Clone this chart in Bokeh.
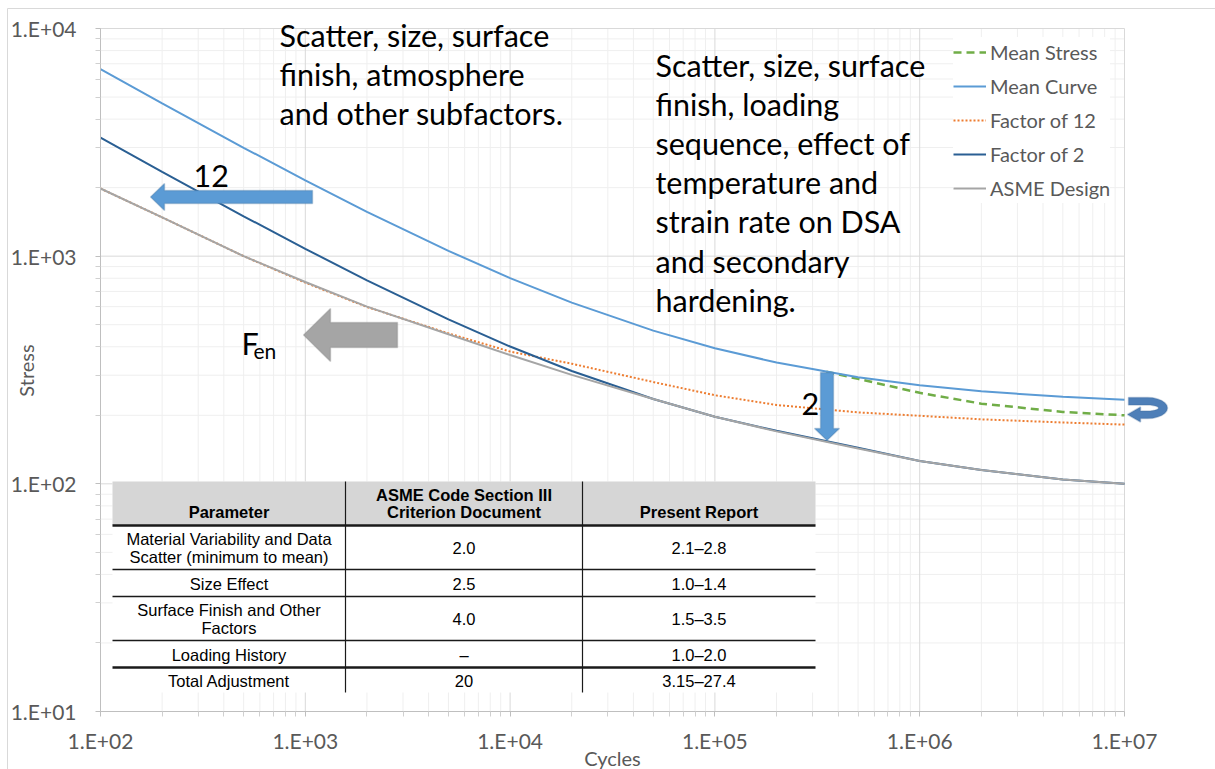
import math

from bokeh.embed import file_html
from bokeh.models import (BoxAnnotation, CustomJSTickFormatter, FixedTicker, Label,
                          Legend, LegendItem, PolyAnnotation, Range1d)
from bokeh.plotting import figure
from bokeh.resources import INLINE

# ---------------------------------------------------------------- data
CYCLES = [1e2, 2e2, 5e2, 1e3, 2e3, 5e3, 1e4, 2e4, 5e4, 1e5, 2e5, 5e5, 1e6, 2e6, 5e6, 1e7]
MEAN_CURVE = [6635, 4691, 2993, 2153, 1566, 1055, 801, 625, 471, 394, 341, 294, 271, 255, 241, 234]
FACTOR_12 = [1982, 1480, 1000, 765, 598, 458, 381, 337, 280, 245, 222, 206, 199, 192, 186, 182]
FACTOR_2 = [3318, 2346, 1497, 1077, 783, 528, 401, 313, 236, 197, 171, 144, 126, 115, 104.5, 100]
ASME_DESIGN = [1982, 1480, 1000, 770, 600, 454, 368, 301, 236, 197, 170, 143, 126, 115, 104.5, 100]

MEAN_STRESS_CYCLES = [3.5e5, 5e5, 1e6, 2e6, 5e6, 1e7]
MEAN_STRESS = [311, 289, 251, 225, 207, 200]

SERIES_NAMES = ["Mean Stress", "Mean Curve", "Factor of 12", "Factor of 2", "ASME Design"]

X_DECADES = [2, 3, 4, 5, 6, 7]      # 1.E+02 ... 1.E+07 cycles
Y_DECADES = [1, 2, 3, 4]            # 1.E+01 ... 1.E+04 stress

TABLE_HEADER = [["Parameter"], ["ASME Code Section III", "Criterion Document"], ["Present Report"]]
TABLE_PARAMETERS = [["Material Variability and Data", "Scatter (minimum to mean)"],
                    ["Size Effect"],
                    ["Surface Finish and Other", "Factors"],
                    ["Loading History"],
                    ["Total Adjustment"]]
TABLE_ASME = ["2.0", "2.5", "4.0", "\u2013", "20"]
TABLE_PRESENT = ["2.1\u20132.8", "1.0\u20131.4", "1.5\u20133.5", "1.0\u20132.0", "3.15\u201327.4"]

NOTE_LEFT = ["Scatter, size, surface", "finish, atmosphere", "and other subfactors."]
NOTE_RIGHT = ["Scatter, size, surface", "finish, loading", "sequence, effect of",
              "temperature and", "strain rate on DSA", "and secondary", "hardening."]

# ---------------------------------------------------------------- layout
W, H = 1215, 769
PLOT_L, PLOT_R, PLOT_T, PLOT_B = 100, 1124, 28, 711     # the 1e2..1e7 x 1e1..1e4 box
X_LO, X_HI = 10.0 ** X_DECADES[0], 10.0 ** X_DECADES[-1]
Y_LO, Y_HI = 10.0 ** Y_DECADES[0], 10.0 ** Y_DECADES[-1]

# the frame covers the whole page so that call-outs placed around the plot
# box are not clipped; the ranges are stretched to keep the log scales and the
# axes are pinned to the edges of the plot box
px_per_x_decade = (PLOT_R - PLOT_L) / (X_DECADES[-1] - X_DECADES[0])
px_per_y_decade = (PLOT_B - PLOT_T) / (Y_DECADES[-1] - Y_DECADES[0])
x_start = 10.0 ** (X_DECADES[0] - PLOT_L / px_per_x_decade)
x_end = 10.0 ** (X_DECADES[-1] + (W - PLOT_R) / px_per_x_decade)
y_start = 10.0 ** (Y_DECADES[0] - (H - PLOT_B) / px_per_y_decade)
y_end = 10.0 ** (Y_DECADES[-1] + PLOT_T / px_per_y_decade)


def sx(cx):
    """page x (px from left) -> frame screen units"""
    return cx


def sy(cy):
    """page y (px from top) -> frame screen units (y up)"""
    return H - cy


FONT = "Lato"
AXIS_GREY = "#595959"

p = figure(width=W, height=H, x_axis_type="log", y_axis_type="log",
           x_range=Range1d(x_start, x_end), y_range=Range1d(y_start, y_end),
           output_backend="svg", toolbar_location=None,
           min_border=0, min_border_left=0, min_border_right=0,
           min_border_top=0, min_border_bottom=0,
           background_fill_color="white", border_fill_color="white")
p.outline_line_color = None
p.grid.visible = False

fmt = CustomJSTickFormatter(code="""
const e = Math.round(Math.log10(tick));
return "1.E" + (e < 0 ? "-" : "+") + String(Math.abs(e)).padStart(2, "0");
""")

x_major = [10.0 ** e for e in X_DECADES]
y_major = [10.0 ** e for e in Y_DECADES]
x_minor = [m * 10.0 ** e for e in X_DECADES[:-1] for m in range(2, 10)]
y_minor = [m * 10.0 ** e for e in Y_DECADES[:-1] for m in range(2, 10)]
p.xaxis.ticker = FixedTicker(ticks=x_major, minor_ticks=x_minor)
p.yaxis.ticker = FixedTicker(ticks=y_major, minor_ticks=y_minor)
p.xaxis.bounds = (X_LO, X_HI)
p.yaxis.bounds = (Y_LO, Y_HI)
p.xaxis.fixed_location = Y_LO
p.yaxis.fixed_location = X_LO

for ax in (p.xaxis[0], p.yaxis[0]):
    ax.formatter = fmt
    ax.major_label_text_font = FONT
    ax.major_label_text_font_size = "21px"
    ax.major_label_text_color = AXIS_GREY
    ax.axis_line_color = "#bfbfbf"
    ax.major_tick_line_color = "#bfbfbf"
    ax.minor_tick_line_color = "#d0d0d0"
    ax.major_tick_out = 5
    ax.minor_tick_out = 5
    ax.major_tick_in = 0
    ax.minor_tick_in = 0
p.yaxis.major_label_standoff = 19
p.xaxis.major_label_standoff = 11

# ---------------------------------------------------------------- grid
MINOR_GRID, MAJOR_GRID = "#efefef", "#d9d9d9"
p.segment(x0=x_minor, y0=Y_LO, x1=x_minor, y1=Y_HI, line_color=MINOR_GRID, line_width=1)
p.segment(x0=X_LO, y0=y_minor, x1=X_HI, y1=y_minor, line_color=MINOR_GRID, line_width=1)
p.segment(x0=x_major, y0=Y_LO, x1=x_major, y1=Y_HI, line_color=MAJOR_GRID, line_width=1)
p.segment(x0=X_LO, y0=y_major, x1=X_HI, y1=y_major, line_color=MAJOR_GRID, line_width=1)

# ---------------------------------------------------------------- curves
r_ms = p.line(MEAN_STRESS_CYCLES, MEAN_STRESS, line_color="#70ad47", line_width=2.5,
              line_dash="8 5")
r_mean = p.line(CYCLES, MEAN_CURVE, line_color="#5b9bd5", line_width=2)
r_f12 = p.line(CYCLES, FACTOR_12, line_color="#ed7d31", line_width=2, line_dash="2 2")
r_f2 = p.line(CYCLES, FACTOR_2, line_color="#2a5f93", line_width=2)
r_asme = p.line(CYCLES, ASME_DESIGN, line_color="#a5a5a5", line_width=2)

legend = Legend(items=[LegendItem(label=n, renderers=[r])
                       for n, r in zip(SERIES_NAMES, [r_ms, r_mean, r_f12, r_f2, r_asme])],
                location=(sx(953), sy(203)),
                glyph_width=33, glyph_height=30, label_height=30, spacing=4,
                padding=2, margin=0, label_standoff=4,
                label_text_font=FONT, label_text_font_size="20px",
                label_text_color=AXIS_GREY,
                border_line_color=None, background_fill_color="white",
                background_fill_alpha=1)
p.add_layout(legend)

# ---------------------------------------------------------------- axis titles
p.add_layout(Label(x=sx(25), y=sy(370), x_units="screen", y_units="screen", text="Stress",
                   angle=math.pi / 2, text_align="center", text_baseline="middle",
                   text_font=FONT, text_font_size="20px", text_color=AXIS_GREY))
p.add_layout(Label(x=sx(612), y=sy(757), x_units="screen", y_units="screen", text="Cycles",
                   text_align="center", text_baseline="middle",
                   text_font=FONT, text_font_size="20px", text_color=AXIS_GREY))


# ---------------------------------------------------------------- call-outs
def note(cx, baseline, text, size="30.5px"):
    p.add_layout(Label(x=sx(cx), y=sy(baseline), x_units="screen", y_units="screen",
                       text=text, text_align="left", text_baseline="alphabetic",
                       text_font=FONT, text_font_size=size, text_color="black"))


for i, line in enumerate(NOTE_LEFT):
    note(279, 34 + 39 * i, line)
for i, line in enumerate(NOTE_RIGHT):
    note(655, 64 + 39.2 * i, line)
note(193, 175, "12")
note(801, 403, "2")
note(241, 342, "F")
note(253, 350, "en", size="21px")


def poly(points, fill, line):
    p.add_layout(PolyAnnotation(xs=[sx(x) for x, _ in points], ys=[sy(y) for _, y in points],
                                xs_units="screen", ys_units="screen",
                                fill_color=fill, fill_alpha=1, line_color=line,
                                line_width=1.5))


# horizontal arrow (factor of 12 on cycles)
poly([(150, 196.5), (164, 183), (164, 190), (312, 190), (312, 203), (164, 203), (164, 210)],
     "#5b9bd5", "#41719c")
# environmental factor arrow
poly([(303, 334.5), (330, 308), (330, 322), (397, 322), (397, 347), (330, 347), (330, 361)],
     "#a5a5a5", "#7a7a7a")
# downward arrow (factor of 2 on stress)
poly([(820, 372), (833, 372), (833, 428), (839, 428), (826.5, 440), (814, 428), (820, 428)],
     "#5b9bd5", "#41719c")

# curled arrow at the end of the mean curve
cx0, cy0 = 1147, 407.5
outer = [(cx0 + 20 * math.cos(a), cy0 - 10.5 * math.sin(a))
         for a in [math.pi / 2 - k * math.pi / 12 for k in range(13)]]
inner = [(cx0 + 11 * math.cos(a), cy0 - 3 * math.sin(a))
         for a in [-math.pi / 2 + k * math.pi / 12 for k in range(13)]]
curl = [(1128, 397)] + outer + [(1140, 418), (1140, 421.5), (1127, 414), (1140, 406.5),
                                (1140, 410.5)] + inner + [(1128, 404.5)]
poly(curl, "#4e7fb8", "#3b6898")


# ---------------------------------------------------------------- table
def box(left, right, top, bottom, color):
    p.add_layout(BoxAnnotation(left=sx(left), right=sx(right), top=sy(top), bottom=sy(bottom),
                               left_units="screen", right_units="screen",
                               top_units="screen", bottom_units="screen",
                               fill_color=color, fill_alpha=1, line_color=None))


def cell_text(cx, cy, text, bold=False):
    p.add_layout(Label(x=sx(cx), y=sy(cy), x_units="screen", y_units="screen", text=text,
                       text_align="center", text_baseline="middle",
                       text_font="Liberation Sans", text_font_size="16.5px",
                       text_font_style="bold" if bold else "normal", text_color="black"))


T_L, T_R, T_TOP, T_BOT = 112, 815, 481, 692
COL_X = [112, 345, 582, 815]
ROW_Y = [525, 569, 596, 640, 667, 692]

box(T_L, T_R, T_TOP, T_BOT, "white")
box(T_L, T_R, T_TOP, ROW_Y[0], "#d6d6d6")
for i, ry in enumerate(ROW_Y[:-1]):
    thick = 1.2 if i in (0, 4) else 0.8
    box(T_L, T_R, ry - thick, ry + thick, "#1a1a1a")
for vx in COL_X[1:3]:
    box(vx - 0.6, vx + 0.6, T_TOP, T_BOT, "#1a1a1a")

centers = [(COL_X[i] + COL_X[i + 1]) / 2 for i in range(3)]
for c, lines in zip(centers, TABLE_HEADER):
    for k, t in enumerate(lines):
        cell_text(c, 511 - 17 * (len(lines) - 1 - k), t, bold=True)

row_tops = [ROW_Y[0]] + ROW_Y[1:-1]
for i in range(5):
    mid = (row_tops[i] + ROW_Y[i + 1]) / 2 + 0.5
    lines = TABLE_PARAMETERS[i]
    for k, t in enumerate(lines):
        cell_text(centers[0], mid + 18 * (k - (len(lines) - 1) / 2), t)
    cell_text(centers[1], mid, TABLE_ASME[i])
    cell_text(centers[2], mid, TABLE_PRESENT[i])

# chart border (top and left edges)
box(7, W, 7.5, 8.5, "#d9d9d9")
box(6.5, 7.5, 8, H, "#d9d9d9")

open("out.html", "w").write(file_html(p, INLINE))
